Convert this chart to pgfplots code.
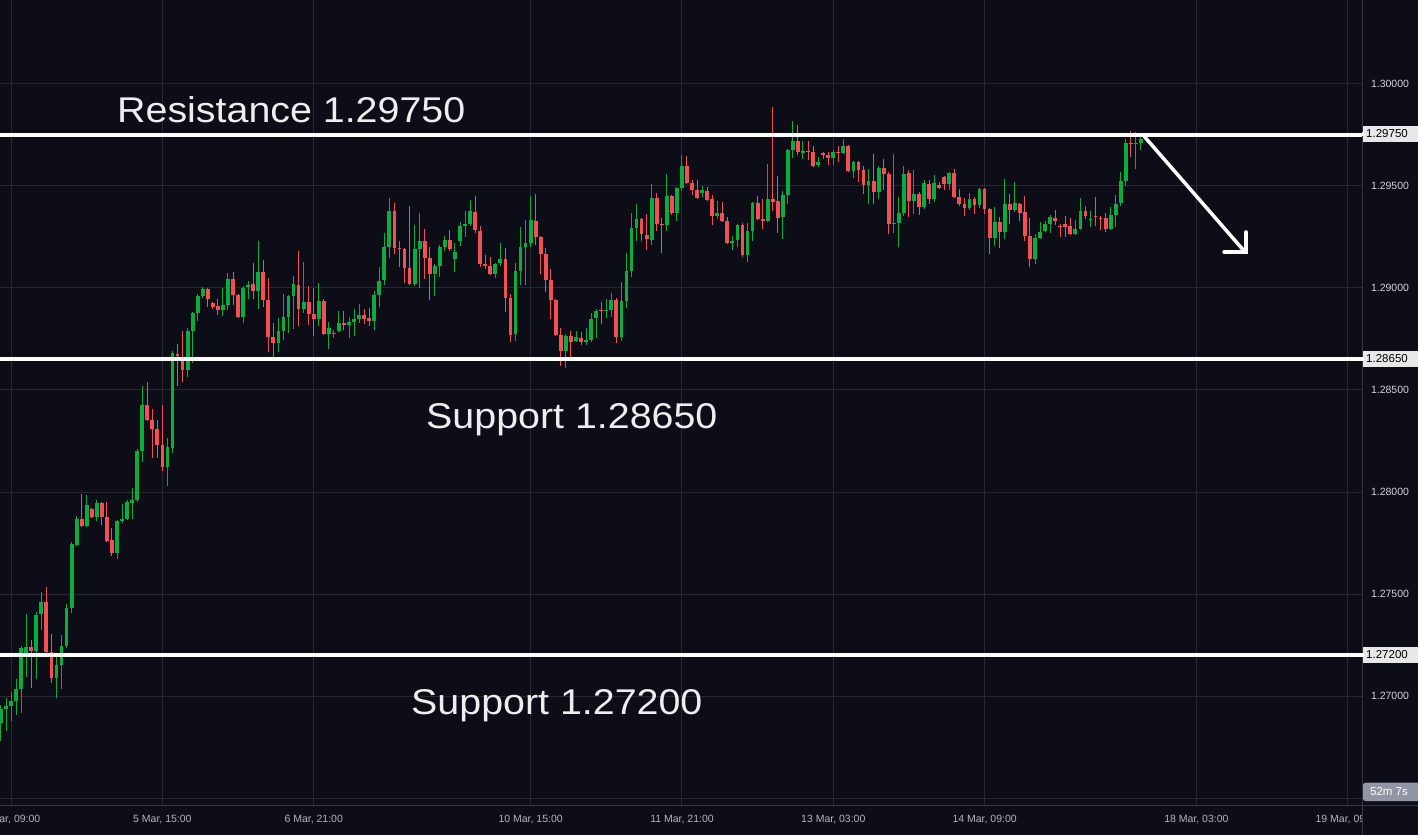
\documentclass[border=0pt]{standalone}
\usepackage{pgfplots}
\pgfplotsset{compat=1.18}
\usepackage{pgfplotstable}
\usepackage{fontspec}
\setmainfont{Liberation Sans}
\definecolor{bgc}{RGB}{12,13,22}
\definecolor{gridc}{RGB}{38,40,54}
\definecolor{upc}{RGB}{9,173,62}
\definecolor{dnc}{RGB}{244,80,84}
\definecolor{txtc}{RGB}{238,238,238}
\definecolor{scalec}{RGB}{210,212,220}
\definecolor{timec}{RGB}{178,181,190}
\definecolor{boxc}{RGB}{232,232,232}
\definecolor{badgec}{RGB}{145,150,166}
\definecolor{borderc}{RGB}{52,55,68}

\pgfplotstableread{
i O H L C
0 1.26868 1.26956 1.26780 1.26936
1 1.26936 1.26990 1.26829 1.26951
2 1.26951 1.27020 1.26878 1.26976
3 1.26976 1.27084 1.26907 1.27035
4 1.27035 1.27245 1.26917 1.27236
5 1.27211 1.27402 1.27093 1.27240
6 1.27240 1.27275 1.27039 1.27221
7 1.27221 1.27412 1.27084 1.27397
8 1.27402 1.27510 1.27324 1.27461
9 1.27461 1.27535 1.27211 1.27216
10 1.27216 1.27304 1.27064 1.27088
11 1.27088 1.27191 1.26990 1.27152
12 1.27152 1.27299 1.27035 1.27245
13 1.27245 1.27451 1.27236 1.27432
14 1.27432 1.27755 1.27407 1.27745
15 1.27740 1.27883 1.27736 1.27868
16 1.27868 1.27990 1.27829 1.27834
17 1.27834 1.27986 1.27829 1.27936
18 1.27917 1.27922 1.27873 1.27878
19 1.27878 1.27961 1.27858 1.27946
20 1.27946 1.27951 1.27838 1.27878
21 1.27878 1.27951 1.27755 1.27760
22 1.27765 1.27824 1.27686 1.27701
23 1.27701 1.27863 1.27672 1.27858
24 1.27858 1.27941 1.27848 1.27868
25 1.27868 1.27961 1.27863 1.27951
26 1.27946 1.28020 1.27868 1.27961
27 1.27961 1.28211 1.27951 1.28201
28 1.28201 1.28520 1.28147 1.28427
29 1.28427 1.28539 1.28348 1.28353
30 1.28353 1.28407 1.28167 1.28309
31 1.28309 1.28353 1.28167 1.28231
32 1.28231 1.28427 1.28103 1.28123
33 1.28123 1.28265 1.28030 1.28221
34 1.28216 1.28691 1.28191 1.28682
35 1.28677 1.28726 1.28520 1.28667
36 1.28662 1.28789 1.28539 1.28598
37 1.28598 1.28804 1.28564 1.28789
38 1.28789 1.28883 1.28633 1.28878
39 1.28878 1.28971 1.28838 1.28961
40 1.28961 1.29005 1.28951 1.28995
41 1.28995 1.28999 1.28907 1.28946
42 1.28927 1.28932 1.28897 1.28907
43 1.28912 1.28946 1.28868 1.28892
44 1.28892 1.29000 1.28863 1.28917
45 1.28917 1.29074 1.28892 1.29044
46 1.29044 1.29079 1.28917 1.28966
47 1.28966 1.28971 1.28853 1.28858
48 1.28858 1.29010 1.28829 1.29000
49 1.29005 1.29035 1.28946 1.29015
50 1.29020 1.29123 1.28946 1.28986
51 1.28986 1.29231 1.28897 1.29079
52 1.29079 1.29137 1.28907 1.28941
53 1.28941 1.29049 1.28686 1.28760
54 1.28760 1.28829 1.28657 1.28731
55 1.28731 1.28853 1.28686 1.28789
56 1.28789 1.28971 1.28745 1.28858
57 1.28858 1.28966 1.28780 1.28961
58 1.28961 1.29059 1.28799 1.29020
59 1.29015 1.29182 1.28814 1.28897
60 1.28897 1.29128 1.28878 1.28932
61 1.28932 1.29010 1.28819 1.28873
62 1.28873 1.29000 1.28765 1.28848
63 1.28848 1.29025 1.28814 1.28936
64 1.28936 1.28946 1.28770 1.28775
65 1.28775 1.28834 1.28701 1.28804
66 1.28775 1.28794 1.28755 1.28780
67 1.28789 1.28887 1.28785 1.28829
68 1.28829 1.28887 1.28794 1.28819
69 1.28819 1.28858 1.28755 1.28834
70 1.28834 1.28897 1.28765 1.28848
71 1.28848 1.28922 1.28829 1.28868
72 1.28868 1.28897 1.28824 1.28848
73 1.28853 1.28902 1.28814 1.28838
74 1.28838 1.28986 1.28794 1.28966
75 1.28966 1.29103 1.28907 1.29035
76 1.29039 1.29270 1.29015 1.29201
77 1.29201 1.29441 1.29147 1.29378
78 1.29378 1.29417 1.29167 1.29196
79 1.29196 1.29231 1.29103 1.29191
80 1.29191 1.29196 1.29025 1.29098
81 1.29098 1.29402 1.29015 1.29020
82 1.29020 1.29309 1.29010 1.29191
83 1.29191 1.29368 1.29000 1.29231
84 1.29231 1.29289 1.29044 1.29147
85 1.29147 1.29201 1.28941 1.29069
86 1.29069 1.29118 1.28961 1.29108
87 1.29108 1.29211 1.29054 1.29201
88 1.29201 1.29255 1.29182 1.29236
89 1.29236 1.29285 1.29182 1.29191
90 1.29142 1.29221 1.29079 1.29177
91 1.29231 1.29324 1.29206 1.29304
92 1.29304 1.29378 1.29250 1.29314
93 1.29314 1.29432 1.29304 1.29378
94 1.29373 1.29451 1.29270 1.29285
95 1.29280 1.29304 1.29103 1.29118
96 1.29118 1.29162 1.29093 1.29108
97 1.29108 1.29152 1.29064 1.29069
98 1.29069 1.29123 1.29049 1.29118
99 1.29123 1.29221 1.29108 1.29142
100 1.29142 1.29196 1.28883 1.28951
101 1.28951 1.28971 1.28736 1.28770
102 1.28775 1.29123 1.28740 1.29084
103 1.29084 1.29299 1.29015 1.29201
104 1.29201 1.29334 1.29015 1.29221
105 1.29221 1.29451 1.29201 1.29334
106 1.29329 1.29461 1.29211 1.29250
107 1.29250 1.29255 1.29069 1.29167
108 1.29167 1.29196 1.28981 1.29039
109 1.29039 1.29093 1.28848 1.28941
110 1.28941 1.28946 1.28765 1.28770
111 1.28770 1.28804 1.28618 1.28691
112 1.28691 1.28775 1.28608 1.28765
113 1.28765 1.28789 1.28657 1.28736
114 1.28740 1.28789 1.28736 1.28760
115 1.28755 1.28785 1.28721 1.28736
116 1.28736 1.28804 1.28721 1.28745
117 1.28745 1.28878 1.28736 1.28848
118 1.28853 1.28897 1.28755 1.28887
119 1.28892 1.28932 1.28824 1.28887
120 1.28887 1.28946 1.28853 1.28892
121 1.28892 1.28976 1.28858 1.28941
122 1.28941 1.28951 1.28731 1.28760
123 1.28760 1.29030 1.28740 1.28936
124 1.28936 1.29172 1.28902 1.29084
125 1.29084 1.29368 1.29054 1.29294
126 1.29294 1.29412 1.29231 1.29338
127 1.29338 1.29343 1.29231 1.29265
128 1.29260 1.29363 1.29187 1.29240
129 1.29236 1.29510 1.29211 1.29441
130 1.29441 1.29466 1.29280 1.29314
131 1.29314 1.29343 1.29172 1.29309
132 1.29309 1.29559 1.29280 1.29451
133 1.29451 1.29456 1.29358 1.29368
134 1.29368 1.29495 1.29329 1.29490
135 1.29490 1.29652 1.29476 1.29598
136 1.29598 1.29647 1.29510 1.29515
137 1.29515 1.29530 1.29456 1.29481
138 1.29481 1.29530 1.29437 1.29441
139 1.29466 1.29500 1.29446 1.29481
140 1.29476 1.29495 1.29427 1.29432
141 1.29437 1.29456 1.29309 1.29353
142 1.29353 1.29427 1.29338 1.29368
143 1.29368 1.29422 1.29324 1.29329
144 1.29329 1.29348 1.29216 1.29221
145 1.29221 1.29255 1.29187 1.29231
146 1.29236 1.29314 1.29201 1.29309
147 1.29309 1.29319 1.29152 1.29162
148 1.29162 1.29319 1.29128 1.29280
149 1.29280 1.29422 1.29231 1.29417
150 1.29417 1.29451 1.29334 1.29338
151 1.29338 1.29437 1.29289 1.29329
152 1.29329 1.29608 1.29324 1.29437
153 1.29437 1.29887 1.29378 1.29422
154 1.29427 1.29549 1.29270 1.29343
155 1.29348 1.29476 1.29240 1.29456
156 1.29456 1.29682 1.29412 1.29677
157 1.29677 1.29819 1.29637 1.29721
158 1.29721 1.29799 1.29652 1.29667
159 1.29662 1.29721 1.29633 1.29672
160 1.29672 1.29721 1.29628 1.29667
161 1.29667 1.29696 1.29593 1.29598
162 1.29603 1.29642 1.29593 1.29618
163 1.29662 1.29667 1.29633 1.29652
164 1.29652 1.29667 1.29603 1.29637
165 1.29637 1.29677 1.29603 1.29667
166 1.29667 1.29696 1.29618 1.29662
167 1.29662 1.29731 1.29657 1.29696
168 1.29696 1.29701 1.29569 1.29574
169 1.29574 1.29623 1.29539 1.29618
170 1.29618 1.29623 1.29520 1.29579
171 1.29579 1.29598 1.29461 1.29505
172 1.29505 1.29584 1.29412 1.29525
173 1.29525 1.29657 1.29412 1.29471
174 1.29471 1.29598 1.29437 1.29588
175 1.29588 1.29633 1.29481 1.29559
176 1.29559 1.29569 1.29265 1.29314
177 1.29314 1.29657 1.29270 1.29319
178 1.29319 1.29446 1.29201 1.29368
179 1.29368 1.29598 1.29353 1.29559
180 1.29564 1.29579 1.29348 1.29427
181 1.29427 1.29579 1.29363 1.29461
182 1.29461 1.29471 1.29358 1.29397
183 1.29397 1.29530 1.29387 1.29515
184 1.29510 1.29530 1.29412 1.29437
185 1.29437 1.29554 1.29422 1.29515
186 1.29505 1.29520 1.29486 1.29490
187 1.29544 1.29549 1.29481 1.29510
188 1.29510 1.29569 1.29481 1.29564
189 1.29564 1.29584 1.29441 1.29446
190 1.29446 1.29486 1.29402 1.29412
191 1.29412 1.29441 1.29353 1.29392
192 1.29392 1.29466 1.29383 1.29437
193 1.29437 1.29446 1.29363 1.29407
194 1.29407 1.29490 1.29392 1.29486
195 1.29486 1.29490 1.29363 1.29387
196 1.29387 1.29392 1.29167 1.29245
197 1.29245 1.29397 1.29206 1.29324
198 1.29324 1.29348 1.29196 1.29275
199 1.29275 1.29535 1.29240 1.29412
200 1.29412 1.29461 1.29314 1.29383
201 1.29383 1.29520 1.29373 1.29417
202 1.29412 1.29417 1.29329 1.29368
203 1.29373 1.29451 1.29231 1.29255
204 1.29255 1.29343 1.29103 1.29142
205 1.29142 1.29265 1.29118 1.29245
206 1.29245 1.29324 1.29240 1.29275
207 1.29280 1.29329 1.29275 1.29314
208 1.29314 1.29358 1.29270 1.29348
209 1.29343 1.29383 1.29309 1.29329
210 1.29304 1.29314 1.29250 1.29299
211 1.29314 1.29353 1.29250 1.29299
212 1.29304 1.29343 1.29260 1.29265
213 1.29265 1.29334 1.29260 1.29289
214 1.29289 1.29441 1.29285 1.29378
215 1.29378 1.29402 1.29338 1.29353
216 1.29334 1.29378 1.29299 1.29338
217 1.29353 1.29446 1.29304 1.29348
218 1.29343 1.29353 1.29285 1.29338
219 1.29343 1.29368 1.29275 1.29289
220 1.29289 1.29397 1.29285 1.29358
221 1.29358 1.29456 1.29299 1.29412
222 1.29417 1.29569 1.29402 1.29525
223 1.29525 1.29731 1.29500 1.29711
224 1.29711 1.29770 1.29642 1.29706
225 1.29706 1.29765 1.29584 1.29711
226 1.29711 1.29750 1.29677 1.29731
}\candles

\pgfplotsset{
  candleseg/.style 2 args={forget plot, mark=none, draw=#1, line width=#2, line cap=butt, -},
}

\begin{document}
\begin{tikzpicture}
\fill[bgc] (0pt,0pt) rectangle (1418pt,835pt);
\begin{axis}[
  at={(0pt,30pt)}, anchor=south west, scale only axis,
  width=1362pt, height=805pt,
  xmin=-0.198, xmax=269.83, ymin=1.264657, ymax=1.304118,
  axis line style={draw=none}, tick style={draw=none},
  xtick={2,32,62,105,135,165,195,237,267},
  ytick={1.265,1.27,1.275,1.28,1.285,1.29,1.295,1.3},
  xticklabels={}, yticklabels={},
  grid=major, major grid style={draw=gridc, line width=1pt},
  clip=true,
]
% wicks
\addplot[candleseg={upc}{1pt}, quiver={u=0, v={\thisrow{H}-\thisrow{L}}}]
  table[x expr={\thisrow{C}>=\thisrow{O} ? \thisrow{i} : nan}, y=L] {\candles};
\addplot[candleseg={dnc}{1pt}, quiver={u=0, v={\thisrow{H}-\thisrow{L}}}]
  table[x expr={\thisrow{C}<\thisrow{O} ? \thisrow{i} : nan}, y=L] {\candles};
% bodies
\addplot[candleseg={upc}{3.8pt}, quiver={u=0, v={\thisrow{C}-\thisrow{O}}}]
  table[x expr={\thisrow{C}>=\thisrow{O} ? \thisrow{i} : nan}, y=O] {\candles};
\addplot[candleseg={dnc}{3.8pt}, quiver={u=0, v={\thisrow{O}-\thisrow{C}}}]
  table[x expr={\thisrow{C}<\thisrow{O} ? \thisrow{i} : nan}, y=C] {\candles};
% levels
\addplot[forget plot, no marks, draw=white, line width=4pt] coordinates {(-0.198,1.2975) (269.83,1.2975)};
\addplot[forget plot, no marks, draw=white, line width=4pt] coordinates {(-0.198,1.2865) (269.83,1.2865)};
\addplot[forget plot, no marks, draw=white, line width=4pt] coordinates {(-0.198,1.2720) (269.83,1.2720)};
\end{axis}
\begin{scope}[x=1pt,y=1pt]
  \draw[borderc, line width=1pt] (0,30) -- (1418,30);
  \foreach \xx/\lab in {11.1/{4 Mar, 09:00},162.4/{5 Mar, 15:00},313.7/{6 Mar, 21:00},530.6/{10 Mar, 15:00},682/{11 Mar, 21:00},833.3/{13 Mar, 03:00},984.6/{14 Mar, 09:00},1196.4/{18 Mar, 03:00},1347.7/{19 Mar, 09:00}}
    \node[text=timec, font=\fontsize{10.5}{12}\selectfont, inner sep=0pt] at (\xx,15) {\lab};
  \fill[bgc] (1363,0) rectangle (1418,29.5);
  \draw[borderc, line width=1pt] (1362.5,0) -- (1362.5,835);
  \foreach \yy/\lab in {751/1.30000,649/1.29500,547/1.29000,445/1.28500,343/1.28000,241/1.27500,139/1.27000}
    \node[text=scalec, font=\fontsize{10.5}{12}\selectfont, inner sep=0pt] at (1390,\yy) {\lab};
  \foreach \yy/\lab in {701/1.29750,476/1.28650,180/1.27200} {
    \fill[boxc] (1363,\yy-8) rectangle (1418,\yy+8);
    \draw[white, line width=4pt] (1362,\yy) -- (1364,\yy);
    \node[text=black, font=\fontsize{11.5}{13}\selectfont, inner sep=0pt] at (1387,\yy) {\lab};
  }
  \fill[badgec, rounded corners=2.5pt] (1363,34) rectangle (1422,52.3);
  \fill[badgec] (1400,34) rectangle (1418,52.3);
  \node[text=white, font=\fontsize{11.5}{13}\selectfont, inner sep=0pt] at (1389,43) {52m 7s};
  \node[anchor=base west, inner sep=0pt, text=txtc, font=\fontsize{35.8}{40}\selectfont, xscale=1.1] at (117,712.7) {Resistance 1.29750};
  \node[anchor=base west, inner sep=0pt, text=txtc, font=\fontsize{35.8}{40}\selectfont, xscale=1.1] at (426,406.7) {Support 1.28650};
  \node[anchor=base west, inner sep=0pt, text=txtc, font=\fontsize{35.8}{40}\selectfont, xscale=1.1] at (411,120.7) {Support 1.27200};
  \draw[white, line width=3.5pt, line cap=round] (1143,700) -- (1245,583);
  \draw[white, line width=3.5pt, line cap=round, line join=miter] (1224,583) -- (1246,583) -- (1246,603);
\end{scope}
\pgfresetboundingbox
\path[use as bounding box] (0pt,0pt) rectangle (1418pt,835pt);
\end{tikzpicture}
\end{document}
